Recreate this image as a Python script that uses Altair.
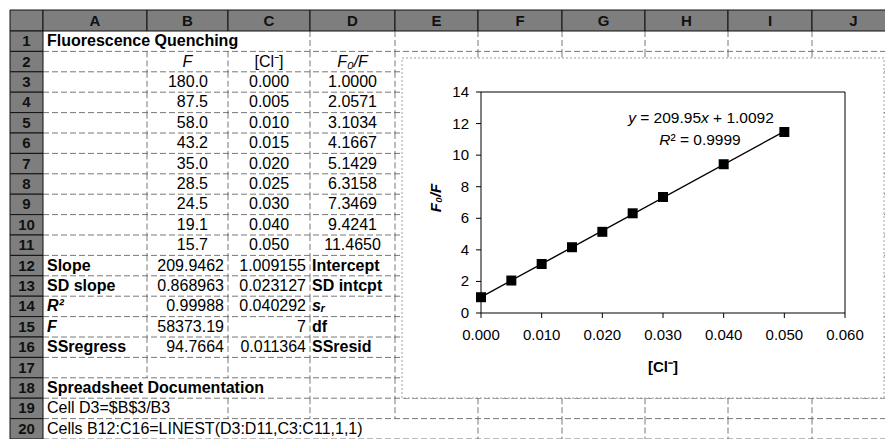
import altair as alt
import pandas as pd

# ---------------- data ----------------
CONC = [0.000, 0.005, 0.010, 0.015, 0.020, 0.025, 0.030, 0.040, 0.050]
F_OBS = [180.0, 87.5, 58.0, 43.2, 35.0, 28.5, 24.5, 19.1, 15.7]
F0_F = [1.0000, 2.0571, 3.1034, 4.1667, 5.1429, 6.3158, 7.3469, 9.4241, 11.4650]
SLOPE = 209.9462
INTERCEPT = 1.009155
R_SQUARED = 0.99988
STAT_NAMES_A = ["Slope", "SD slope", "R²", "F", "SSregress"]
STAT_VALUES_B = ["209.9462", "0.868963", "0.99988", "58373.19", "94.7664"]
STAT_VALUES_C = ["1.009155", "0.023127", "0.040292", "7", "0.011364"]
STAT_NAMES_D = ["Intercept", "SD intcpt", "sᵣ", "df", "SSresid"]
ITALIC_STATS = ["R²", "F", "sᵣ"]
COLUMN_LETTERS = ["A", "B", "C", "D", "E", "F", "G", "H", "I", "J"]
ROW_NUMBERS = list(range(1, 21))
SHEET_TITLE = "Fluorescence Quenching"
COL_HEADERS = ["F", "[Cl⁻]", "F₀/F"]
DOC_LINES = ["Spreadsheet Documentation", "Cell D3=$B$3/B3",
             "Cells B12:C16=LINEST(D3:D11,C3:C11,1,1)"]
X_TICKS = [0.0, 0.01, 0.02, 0.03, 0.04, 0.05, 0.06]
Y_TICKS = [0, 2, 4, 6, 8, 10, 12, 14]
X_TITLE = "[Cl⁻]"
Y_TITLE = "F₀/F"

# ---------------- layout (window pixels) ----------------
FONT = "Liberation Sans"
W, H = 877, 431
OX, OY = 8, 8
COL_EDGES = [10, 43, 147, 228, 310, 395, 478, 562, 645, 728, 812, 895]
HEAD_TOP, HEAD_BOT = 10, 31
ROW_H = 20.4
A_LEFT, B_CENTER, B_NUM_RIGHT, B_STAT_RIGHT = 47, 187.5, 208, 224
C_CENTER, C_STAT_RIGHT, D_CENTER, D_LEFT = 269, 306, 352.5, 312
CHART_BOX = (402, 58, 884, 398)
PLOT_X = (481, 845)   # pixel of x=0 and x=0.06
PLOT_Y = (313, 92)    # pixel of y=0 and y=14
TICK = 5
X_LABEL_Y, Y_LABEL_RIGHT = 335, 469
X_TITLE_POS, Y_TITLE_POS = (663, 367), (436, 198)
EQ_FONT = 15.5
EQ_CENTER = (701, 118, 700, 140)   # centre x / y of the two equation lines

# Liberation Sans (Arial-metric) advance widths, in em, for the equation pieces
ADV = {"y": .5, "x": .5, "R": .722, "²": .333, " ": .278, "=": .584, "+": .584, ".": .278}


def text_width(s):
    return sum(ADV.get(ch, .556) for ch in s) * EQ_FONT


def row_top(r):
    return HEAD_BOT + (r - 1) * ROW_H


def row_mid(r):
    return row_top(r) + ROW_H / 2


SX = alt.Scale(domain=[OX, OX + W], range=[0, W], nice=False, zero=False)
SY = alt.Scale(domain=[OY, OY + H], range=[0, H], nice=False, zero=False)


def sx(f="x"):
    return alt.X(f"{f}:Q", scale=SX, axis=None)


def sy(f="y"):
    return alt.Y(f"{f}:Q", scale=SY, axis=None)


# ---------------- spreadsheet ----------------
cells = []


def add(x, y, text, align="left", weight="normal", style="normal", size=16):
    cells.append(dict(x=x, y=y, text=text, align=align, weight=weight, style=style, size=size))


add(A_LEFT, row_mid(1), SHEET_TITLE, weight="bold")
add(B_CENTER, row_mid(2), COL_HEADERS[0], "center", style="italic")
add(C_CENTER, row_mid(2), COL_HEADERS[1], "center")
add(D_CENTER, row_mid(2), COL_HEADERS[2], "center", style="italic")
for i, (f, c, q) in enumerate(zip(F_OBS, CONC, F0_F)):
    r = 3 + i
    add(B_NUM_RIGHT, row_mid(r), f"{f:.1f}", "right")
    add(C_CENTER, row_mid(r), f"{c:.3f}", "center")
    add(D_CENTER, row_mid(r), f"{q:.4f}", "center")
for i in range(5):
    r = 12 + i
    a, d = STAT_NAMES_A[i], STAT_NAMES_D[i]
    add(A_LEFT, row_mid(r), a, weight="bold", style="italic" if a in ITALIC_STATS else "normal")
    add(B_STAT_RIGHT, row_mid(r), STAT_VALUES_B[i], "right")
    add(C_STAT_RIGHT, row_mid(r), STAT_VALUES_C[i], "right")
    add(D_LEFT, row_mid(r), d, weight="bold", style="italic" if d in ITALIC_STATS else "normal")
add(A_LEFT, row_mid(18), DOC_LINES[0], weight="bold")
add(A_LEFT, row_mid(19), DOC_LINES[1])
add(A_LEFT, row_mid(20), DOC_LINES[2])

# chart titles and trend-line equation (italic variables as separate pieces)
add(X_TITLE_POS[0], X_TITLE_POS[1], X_TITLE, "center", weight="bold", size=15)
eq1 = [("y", "italic"), ("= " + f"{SLOPE:.2f}", "normal"), ("x", "italic"),
       ("+ " + f"{INTERCEPT:.4f}", "normal")]
gaps1 = ["", " ", "", " "]
eq2 = [("R", "italic"), ("²", "normal"), ("= " + f"{R_SQUARED:.4f}", "normal")]
gaps2 = ["", "", " "]
for pieces, gaps, cx, cy in ((eq1, gaps1, EQ_CENTER[0], EQ_CENTER[1]),
                             (eq2, gaps2, EQ_CENTER[2], EQ_CENTER[3])):
    total = sum(text_width(g + p) for (p, _), g in zip(pieces, gaps))
    pos = cx - total / 2
    for (p, st), g in zip(pieces, gaps):
        pos += text_width(g)
        add(pos, cy, p, "left", style=st, size=EQ_FONT)
        pos += text_width(p)
cells_df = pd.DataFrame(cells)

# header rectangles
heads = [dict(x=COL_EDGES[0], x2=COL_EDGES[1], y=HEAD_TOP, y2=HEAD_BOT, text="")]
for i, L in enumerate(COLUMN_LETTERS):
    heads.append(dict(x=COL_EDGES[i + 1], x2=COL_EDGES[i + 2], y=HEAD_TOP, y2=HEAD_BOT, text=L))
for r in ROW_NUMBERS:
    heads.append(dict(x=COL_EDGES[0], x2=COL_EDGES[1], y=row_top(r), y2=row_top(r) + ROW_H, text=str(r)))
heads_df = pd.DataFrame(heads)
heads_df["cx"] = (heads_df.x + heads_df.x2) / 2
heads_df["cy"] = (heads_df.y + heads_df.y2) / 2

# gridlines
hlines = pd.DataFrame([dict(x=COL_EDGES[1], x2=COL_EDGES[-1], y=row_top(r) + ROW_H) for r in ROW_NUMBERS])
skip = {(1, 147), (1, 228), (18, 147), (18, 228), (19, 147),
        (20, 147), (20, 228), (20, 310), (20, 395)}
vl = []
for r in ROW_NUMBERS:
    for e in COL_EDGES[2:-1]:
        if (r, e) not in skip:
            vl.append(dict(x=e, y=row_top(r), y2=row_top(r) + ROW_H))
vlines = pd.DataFrame(vl)

GRID = dict(color="#555555", strokeWidth=0.8, strokeDash=[6, 3])
sheet_layers = [
    alt.Chart(hlines).mark_rule(**GRID).encode(x=sx(), x2="x2:Q", y=sy()),
    alt.Chart(vlines).mark_rule(**GRID).encode(x=sx(), y=sy(), y2="y2:Q"),
    alt.Chart(heads_df).mark_rect(fill="#7e7e7e", stroke="#111111", strokeWidth=1).encode(
        x=sx(), x2="x2:Q", y=sy(), y2="y2:Q"),
    alt.Chart(heads_df).mark_text(font=FONT, fontSize=15, fontWeight="bold", color="#111111",
                                  align="center", baseline="middle").encode(
        x=sx("cx"), y=sy("cy"), text="text:N"),
    alt.Chart(pd.DataFrame([dict(x=CHART_BOX[0], x2=CHART_BOX[2], y=CHART_BOX[1], y2=CHART_BOX[3])]))
    .mark_rect(fill="white", stroke="#888888", strokeWidth=0.8, strokeDash=[2, 2]).encode(
        x=sx(), x2="x2:Q", y=sy(), y2="y2:Q"),
]
for (align, weight, style, size), g in cells_df.groupby(["align", "weight", "style", "size"]):
    sheet_layers.append(
        alt.Chart(g.reset_index(drop=True)).mark_text(
            font=FONT, fontSize=float(size), fontWeight=weight, fontStyle=style, align=align,
            baseline="middle", color="black").encode(x=sx(), y=sy(), text="text:N"))

sheet_layers.append(
    alt.Chart(pd.DataFrame([dict(x=Y_TITLE_POS[0], y=Y_TITLE_POS[1], text=Y_TITLE)])).mark_text(
        font=FONT, fontSize=15, fontWeight="bold", fontStyle="italic", color="black", align="center",
        baseline="middle", angle=270).encode(x=sx(), y=sy(), text="text:N"))
sheet = alt.layer(*sheet_layers)

# ---------------- scatter chart ----------------
PX = alt.Scale(domain=[X_TICKS[0], X_TICKS[-1]], range=[PLOT_X[0] - OX, PLOT_X[1] - OX], nice=False, zero=False)
PY = alt.Scale(domain=[Y_TICKS[0], Y_TICKS[-1]], range=[PLOT_Y[0] - OY, PLOT_Y[1] - OY], nice=False, zero=False)


def px(f):
    return alt.X(f"{f}:Q", scale=PX, axis=None)


def py(f):
    return alt.Y(f"{f}:Q", scale=PY, axis=None)


pts = pd.DataFrame({"conc": CONC, "ratio": F0_F})
xt = pd.DataFrame({"v": X_TICKS})
yt = pd.DataFrame({"v": Y_TICKS})

frame_df = pd.DataFrame([dict(x0=X_TICKS[0], x1=X_TICKS[-1], y0=Y_TICKS[0], y1=Y_TICKS[-1])])
frame = alt.Chart(frame_df).mark_rect(fillOpacity=0, stroke="black", strokeWidth=1).encode(
    x=px("x0"), x2="x1:Q", y=py("y0"), y2="y1:Q")

x_ticks = alt.Chart(xt).mark_rule(color="black", strokeWidth=1).encode(
    x=px("v"), y=alt.value(PLOT_Y[0] - OY), y2=alt.value(PLOT_Y[0] - OY + TICK))
y_ticks = alt.Chart(yt).mark_rule(color="black", strokeWidth=1).encode(
    y=py("v"), x=alt.value(PLOT_X[0] - OX - TICK), x2=alt.value(PLOT_X[0] - OX))
x_labels = alt.Chart(xt).mark_text(font=FONT, fontSize=15, color="black", align="center",
                                   baseline="middle").encode(
    x=px("v"), y=alt.value(X_LABEL_Y - OY), text=alt.Text("v:Q", format=".3f"))
y_labels = alt.Chart(yt).mark_text(font=FONT, fontSize=15, color="black", align="right",
                                   baseline="middle").encode(
    y=py("v"), x=alt.value(Y_LABEL_RIGHT - OX), text=alt.Text("v:Q", format="d"))

fit = alt.Chart(pts).transform_regression("conc", "ratio", extent=[CONC[0], CONC[-1]]).mark_line(
    color="black", strokeWidth=1.4).encode(x=px("conc"), y=py("ratio"))

points = alt.Chart(pts).mark_square(size=100, color="black", opacity=1).encode(
    x=px("conc"), y=py("ratio"))

plot = alt.layer(frame, x_ticks, y_ticks, x_labels, y_labels, fit, points)

chart = alt.layer(sheet, plot).resolve_scale(x="independent", y="independent").properties(
    width=W, height=H, autosize=alt.AutoSizeParams(type="none"), padding=0, background="white"
).configure_view(strokeWidth=0)

chart.save("out.html", embed_options={"renderer": "svg", "actions": False})
